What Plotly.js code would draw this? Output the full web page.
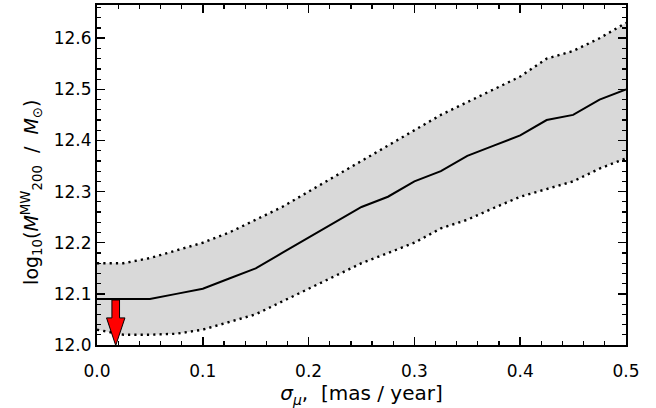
<!DOCTYPE html>
<html>
<head>
<meta charset="utf-8">
<script src="https://cdn.plot.ly/plotly-3.0.1.min.js"></script>
<style>html,body{margin:0;padding:0;background:#fff;}#chart{width:656px;height:408px;}</style>
</head>
<body>
<div id="chart"></div>
<script>
// sigma_mu values [mas/year]
const sigmaMu = [0.0, 0.025, 0.05, 0.075, 0.1, 0.125, 0.15, 0.175, 0.2, 0.225, 0.25, 0.275, 0.3, 0.325, 0.35, 0.375, 0.4, 0.425, 0.45, 0.475, 0.5];
// median log10 M200
const medianMass = [12.09, 12.09, 12.09, 12.10, 12.11, 12.13, 12.15, 12.18, 12.21, 12.24, 12.27, 12.29, 12.32, 12.34, 12.37, 12.39, 12.41, 12.44, 12.45, 12.48, 12.50];
// upper bound
const upperMass = [12.16, 12.16, 12.17, 12.185, 12.20, 12.22, 12.245, 12.27, 12.30, 12.33, 12.36, 12.39, 12.42, 12.45, 12.475, 12.50, 12.525, 12.56, 12.575, 12.60, 12.63];
// lower bound
const lowerMass = [12.03, 12.02, 12.02, 12.022, 12.03, 12.045, 12.06, 12.085, 12.11, 12.135, 12.16, 12.18, 12.20, 12.228, 12.245, 12.268, 12.29, 12.305, 12.32, 12.345, 12.365];
// upper-limit arrow
const arrowX = 0.0177;
const arrowTop = 12.088;
const arrowBottom = 11.999;

const shaftHalf = 0.0036, headHalf = 0.0087, headLen = 0.054;
const headY = arrowBottom + headLen;
const arrowPath = `M ${arrowX - shaftHalf},${arrowTop} L ${arrowX + shaftHalf},${arrowTop} L ${arrowX + shaftHalf},${headY} L ${arrowX + headHalf},${headY} L ${arrowX},${arrowBottom} L ${arrowX - headHalf},${headY} L ${arrowX - shaftHalf},${headY} Z`;

const dotted = {color: '#000', width: 2.4, dash: '2.2px,4.1px'};
const traces = [
  {x: sigmaMu, y: lowerMass, mode: 'lines', line: {color: 'rgba(0,0,0,0)', width: 0}, hoverinfo: 'skip', showlegend: false},
  {x: sigmaMu, y: upperMass, mode: 'lines', fill: 'tonexty', fillcolor: '#d9d9d9', line: {color: 'rgba(0,0,0,0)', width: 0}, hoverinfo: 'skip', showlegend: false},
  {x: sigmaMu, y: upperMass, mode: 'lines', line: dotted, showlegend: false},
  {x: sigmaMu, y: lowerMass, mode: 'lines', line: dotted, showlegend: false},
  {x: sigmaMu, y: medianMass, mode: 'lines', line: {color: '#000', width: 2}, showlegend: false}
];

const axisCommon = {
  showgrid: false, zeroline: false,
  showline: true, linecolor: '#000', linewidth: 2, mirror: 'allticks',
  ticks: 'inside', ticklen: 8, tickwidth: 1.5, tickcolor: '#000',
  tickfont: {family: 'DejaVu Sans', size: 17, color: '#000'},
  tickformat: '.1f'
};

const layout = {
  width: 656, height: 408,
  margin: {l: 97, r: 30, t: 5, b: 63},
  paper_bgcolor: '#fff', plot_bgcolor: '#fff',
  font: {family: 'DejaVu Sans', color: '#000'},
  xaxis: Object.assign({}, axisCommon, {
    range: [0, 0.5], dtick: 0.1, tick0: 0,
    ticklabelstandoff: 10,
    minor: {dtick: 0.02, ticks: 'inside', ticklen: 4, tickwidth: 1.2, tickcolor: '#000'},
    title: {text: '<i>σ</i><sub><i>μ</i></sub>,  [mas / year]', font: {family: 'DejaVu Sans', size: 20}, standoff: 0}
  }),
  yaxis: Object.assign({}, axisCommon, {
    range: [12.0, 12.665], dtick: 0.1, tick0: 12.0,
    minor: {dtick: 0.02, ticks: 'inside', ticklen: 4, tickwidth: 1.2, tickcolor: '#000'}
  }),
  annotations: [
    {xref: 'paper', yref: 'paper', x: -0.125, y: 0.45, xanchor: 'center', yanchor: 'middle', textangle: -90, showarrow: false,
     text: 'log<sub>10</sub>(<i>M</i><sup>MW</sup><sub>200</sub>  /  <i>M</i><sub>⊙</sub>)', font: {family: 'DejaVu Sans', size: 19, color: '#000'}}
  ],
  shapes: [
    {type: 'path', xref: 'x', yref: 'y', path: arrowPath, fillcolor: '#ff0000', line: {color: '#000', width: 1}, layer: 'above'}
  ]
};

Plotly.newPlot('chart', traces, layout, {displayModeBar: false, staticPlot: true});
</script>
</body>
</html>
